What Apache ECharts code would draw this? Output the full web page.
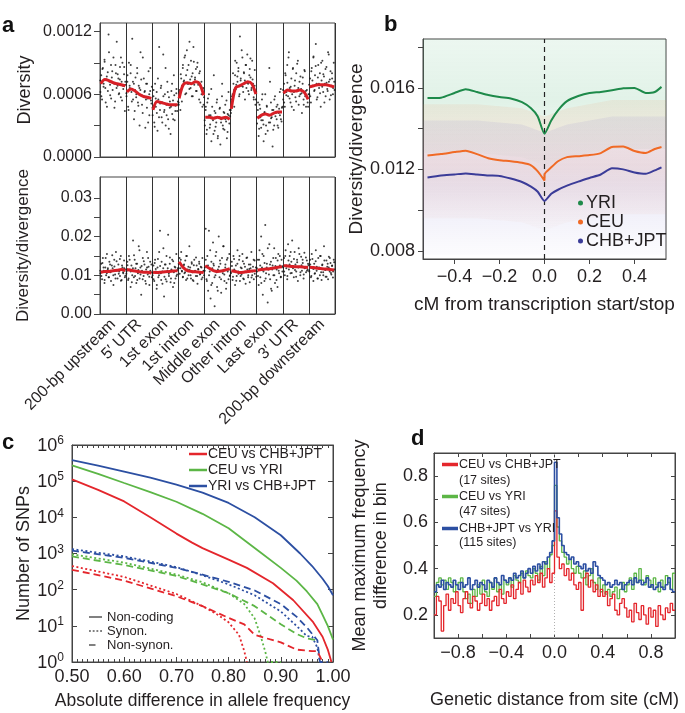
<!DOCTYPE html>
<html><head><meta charset="utf-8">
<script src="https://cdn.jsdelivr.net/npm/echarts@6/dist/echarts.min.js"></script>
<style>html,body{margin:0;padding:0;background:#fff}#c{width:685px;height:713px}</style>
</head><body><div id="c"></div>
<script>
const FONT = '"Liberation Sans", Arial, Helvetica, sans-serif';
const TXT = '#231f20';
const AX = '#444';

// ---------- panel a ----------
const aCats = ['200-bp upstream','5\u2032 UTR','1st exon','1st intron','Middle exon','Other intron','Last exon','3\u2032 UTR','200-bp downstream'];
// diversity dots (units 1e-5), two interleaved sets per segment
const aTopDots = [
 [62,78,55,85,70,93,66,74,48,81,117,72,59,88,76,64,95,70,53,80,110,68,75,61,86,57,72,90,65,79,44,69],
 [58,72,48,90,66,80,62,113,55,70,44,76,60,85,52,68,30,64,74,50,95,58,62,28,70,47,56,82,40,63,54,67],
 [40,58,33,70,48,62,25,55,105,45,66,38,52,98,43,60,30,50,72,36,57,47,22,63,41,54,78,35,49,61,44,53],
 [50,62,45,75,68,85,72,95,60,78,102,70,88,65,74,92,58,80,105,69,76,84,63,90,71,55,82,67,60,48,66,57],
 [30,45,22,52,38,60,28,40,15,48,35,78,25,42,33,55,20,38,46,12,36,58,30,43,26,50,34,18,41,62,32,39],
 [42,55,60,70,48,78,65,90,72,82,58,115,75,68,95,62,80,73,88,66,98,70,60,84,76,64,92,70,55,68,50,62],
 [32,45,20,50,38,28,55,35,15,42,60,30,48,25,40,85,33,52,38,10,45,30,58,42,36,50,28,46,40,65,34,48],
 [55,70,48,78,62,88,58,100,66,52,75,60,85,45,68,57,80,63,92,50,72,60,65,42,76,55,83,58,48,64,52,60],
 [60,75,52,85,68,95,63,78,108,70,57,88,66,80,48,73,92,62,77,70,58,86,65,100,72,55,82,68,75,60,90,64]
];
const aTopDots2 = [
 [73,58,84,67,91,52,77,63,100,69,56,82,71,47,88,66,79,60,74,95,54,68,86,72],
 [61,78,45,68,88,53,72,36,64,57,80,49,66,100,59,42,75,63,55,70,33,60,85,51],
 [47,64,29,56,42,75,38,51,68,33,58,45,85,40,62,27,53,48,70,36,59,44,65,50],
 [52,64,79,53,88,73,97,61,83,70,110,66,77,58,91,74,63,86,69,80,52,72,65,50],
 [35,48,26,56,40,31,65,37,22,44,29,52,18,38,47,33,70,27,42,36,54,24,40,45],
 [45,58,80,64,92,69,77,85,60,73,102,67,81,55,88,71,63,78,94,66,74,57,83,55],
 [38,52,27,46,35,60,31,43,22,49,40,33,72,37,45,26,55,39,48,30,42,62,36,47],
 [64,52,80,59,71,95,56,67,48,84,62,73,53,89,66,58,77,61,70,50,82,63,57,48],
 [69,58,82,73,96,64,87,55,76,70,61,90,67,79,52,84,71,63,98,74,59,80,66,72]
];
// diversity/divergence dots (units 1e-4)
const aBotDots = [
 [105,130,90,145,112,80,120,100,155,115,95,135,108,85,125,118,75,140,102,160,112,92,128,110,98,150,88,120,105,138,95,115],
 [110,135,88,150,115,70,125,100,190,95,140,118,80,130,105,175,92,120,50,112,145,98,128,85,115,160,102,122,75,135,108,95],
 [100,125,85,140,110,65,120,95,160,215,105,135,78,118,45,128,90,150,112,205,98,130,82,115,140,70,108,122,92,155,102,118],
 [130,145,118,160,110,95,125,105,138,88,150,115,100,175,120,92,130,108,85,140,112,98,125,78,115,135,102,122,90,145,110,100],
 [120,220,90,150,60,215,110,40,135,80,185,125,20,100,160,70,115,200,95,130,55,145,105,175,85,120,65,140,110,90,155,100],
 [105,135,88,150,115,75,125,98,165,110,140,85,120,102,155,92,130,108,78,145,115,95,128,82,118,160,100,122,90,138,112,96],
 [110,140,75,165,95,200,120,50,150,85,230,105,130,30,115,180,90,135,60,125,100,170,80,145,115,70,155,105,125,95,140,110],
 [120,145,100,165,125,90,180,115,150,105,135,190,118,95,160,128,110,140,85,170,122,100,148,112,132,92,158,120,108,138,115,126],
 [110,140,95,155,118,85,130,105,165,112,92,145,120,100,150,88,128,108,175,115,96,138,122,90,148,110,132,102,125,94,140,115]
];
const aBotDots2 = [
 [112,98,132,120,88,145,105,118,95,128,110,152,100,123,92,136,114,104,142,86,125,108,118,99],
 [104,126,92,140,110,82,118,152,98,130,88,114,165,102,124,90,136,108,78,120,145,96,112,128],
 [106,90,132,116,75,142,100,124,88,110,170,96,128,84,118,104,146,92,112,136,80,120,98,114],
 [118,104,140,112,96,128,108,150,92,122,114,100,134,88,126,110,146,98,116,130,104,120,94,112],
 [112,140,85,125,100,165,75,118,130,95,150,108,60,122,138,90,112,175,102,128,80,145,115,98],
 [108,124,96,142,112,86,130,104,150,98,118,136,90,122,108,146,100,116,128,94,110,140,104,120],
 [118,98,140,125,80,155,110,132,92,120,170,102,128,65,115,145,100,124,88,138,112,150,96,122],
 [124,110,150,118,98,138,128,160,106,122,142,114,96,134,120,155,108,126,140,102,118,146,112,130],
 [112,128,98,142,116,104,136,122,92,118,150,108,126,100,138,114,96,130,120,145,106,124,110,134]
];
const aTopRed = [
 [70,74,73,71,70,69,68],[62,65,63,60,58,57,56],[45,53,52,51,50,50,50],
 [56,69,71,70,72,70,59],[38,38,37,38,37,38,36],[46,66,68,70,72,70,60],
 [37,40,41,40,42,43,43],[61,64,63,63,64,62,55],[67,68,69,69,69,68,67]
];
const aBotRed = [
 [108,110,110,112,113,115,112],[115,113,111,109,108,108,106],[108,107,108,109,110,111,112],
 [135,120,112,110,109,108,107],[125,118,112,110,111,114,117],[112,110,107,108,110,111,112],
 [113,115,116,117,119,121,122],[125,124,123,122,122,121,120],[121,120,118,117,116,115,114]
];
const aTopTicks = [0,0.0003,0.0006,0.0009,0.0012];
const aTopLabels = [0,0.0006,0.0012];
const aBotTicks = [0,0.005,0.01,0.015,0.02,0.025,0.03];
const aBotLabels = [0,0.01,0.02,0.03];

// ---------- panel b ----------
const bXMin = -0.54, bXMax = 0.54, bYMin = 0.0076, bYMax = 0.0184;
const bX   = [-0.52,-0.46,-0.40,-0.35,-0.30,-0.25,-0.20,-0.15,-0.10,-0.06,-0.03,0, 0,0.03,0.06,0.10,0.15,0.20,0.25,0.30,0.35,0.40,0.45,0.49,0.52];
const bYRI = [0.01550,0.01552,0.01575,0.01593,0.01580,0.01565,0.01555,0.01548,0.01530,0.01500,0.01460,0.01375, 0.01375,0.01440,0.01490,0.01535,0.01560,0.01575,0.01580,0.01588,0.01598,0.01600,0.01575,0.01580,0.01605];
const bCEU = [0.01268,0.01275,0.01285,0.01292,0.01275,0.01255,0.01245,0.01240,0.01232,0.01220,0.01190,0.01145, 0.01175,0.01210,0.01240,0.01260,0.01265,0.01270,0.01280,0.01310,0.01312,0.01290,0.01280,0.01300,0.01310];
const bCHB = [0.01160,0.01170,0.01175,0.01180,0.01175,0.01170,0.01168,0.01155,0.01138,0.01115,0.01090,0.01045, 0.01045,0.01080,0.01100,0.01120,0.01140,0.01158,0.01175,0.01205,0.01200,0.01185,0.01178,0.01195,0.01210];
// extent of the faint point clouds behind each line
const bBandX = [-0.54,-0.3,-0.1,0,0.1,0.3,0.54];
const bYRILo = [0.0128,0.0128,0.0126,0.0122,0.0126,0.0130,0.0130];
const bYRIHi = [0.0184,0.0184,0.0184,0.0184,0.0184,0.0184,0.0184];
const bCEULo = [0.0096,0.0096,0.0094,0.0090,0.0094,0.0098,0.0098];
const bCEUHi = [0.0152,0.0152,0.0150,0.0146,0.0150,0.0154,0.0154];
const bCHBLo = [0.0078,0.0078,0.0078,0.0078,0.0078,0.0078,0.0078];
const bCHBHi = [0.0144,0.0144,0.0142,0.0138,0.0142,0.0146,0.0146];
const bXTicks = [-0.4,-0.2,0,0.2,0.4];
const bYTicks = [0.008,0.010,0.012,0.014,0.016,0.018];
const bYLabels = [0.008,0.012,0.016];

// ---------- panel c ----------
const cRedNC = [[0.50,112000],[0.55,57500],[0.60,27500],[0.65,10000],[0.70,3550],[0.73,2000],[0.75,1410],[0.80,676],[0.835,400],[0.885,151],[0.924,51],[0.962,12.6],[0.98,5],[0.99,2.2],[0.997,1]];
const cGreenNC = [[0.50,275000],[0.55,160000],[0.60,89000],[0.65,50000],[0.70,27000],[0.75,12500],[0.80,5000],[0.86,1100],[0.90,400],[0.93,178],[0.95,89],[0.97,40],[0.98,20],[0.99,10],[1.00,4.2]];
const cBlueNC = [[0.50,380000],[0.55,270000],[0.60,185000],[0.65,125000],[0.70,80000],[0.75,48000],[0.80,25000],[0.85,10000],[0.90,3200],[0.937,1000],[0.96,450],[0.98,200],[0.99,126],[1.00,70]];
const cBlueSyn = [[0.50,1320],[0.55,1050],[0.60,830],[0.65,600],[0.70,420],[0.75,250],[0.80,140],[0.85,70],[0.90,25],[0.93,10],[0.95,5.2],[0.96,5],[0.97,2.5],[0.975,1]];
const cBlueNon = [[0.50,1200],[0.60,760],[0.70,400],[0.75,260],[0.80,165],[0.85,95],[0.90,40],[0.93,18],[0.95,9],[0.97,4],[0.975,1],[0.99,1]];
const cGreenSyn = [[0.50,950],[0.60,560],[0.70,260],[0.75,160],[0.80,80],[0.83,40],[0.85,16],[0.86,6],[0.87,2],[0.875,1],[0.90,1]];
const cGreenNon = [[0.50,830],[0.60,480],[0.70,240],[0.75,140],[0.80,80],[0.85,35],[0.90,11],[0.93,6],[0.95,4.5],[0.97,4]];
const cRedSyn = [[0.50,450],[0.60,225],[0.70,76],[0.75,35],[0.78,20],[0.80,12.5],[0.82,5.6],[0.83,2],[0.835,1]];
const cRedNon = [[0.50,355],[0.60,178],[0.70,66],[0.75,35],[0.80,16.6],[0.83,11],[0.85,5.6],[0.88,4.2],[0.90,3.5],[0.93,2.2],[0.96,2],[0.97,2],[0.98,1]];
const cYLabels = [1,10,100,1000,10000,100000,1000000];

// ---------- panel d ----------
const dYMin = 0.1, dYMax = 0.9;
const dStart = -1, dStep = 0.02;
const dRed = [
 .20,.28,.26,.13,.24,.29,.22,.27,.25,.30, .24,.21,.27,.30,.25,.23,.28,.26,.22,.25,
 .29,.24,.27,.22,.26,.28,.24,.31,.27,.25, .30,.28,.33,.27,.31,.34,.29,.35,.32,.30,
 .35,.33,.37,.34,.38,.32,.36,.40,.34,.38, .65,.45,.40,.42,.37,.40,.35,.38,.33,.31,
 .34,.22,.36,.38,.32,.35,.30,.33,.28,.31, .28,.30,.24,.27,.29,.22,.20,.25,.27,.23,
 .19,.22,.17,.25,.21,.18,.24,.20,.16,.23, .19,.22,.15,.24,.20,.18,.23,.21,.25,.22];
const dGreen = [
 .28,.34,.36,.33,.35,.31,.36,.34,.30,.33, .34,.36,.30,.27,.29,.25,.31,.28,.33,.29,
 .35,.30,.28,.34,.31,.36,.30,.33,.29,.35, .33,.36,.32,.37,.35,.34,.38,.36,.39,.37,
 .36,.40,.38,.35,.41,.37,.43,.40,.46,.50, .76,.58,.52,.47,.45,.42,.44,.40,.38,.41,
 .38,.36,.39,.33,.37,.40,.34,.31,.36,.30, .33,.29,.31,.28,.30,.32,.27,.31,.34,.30,
 .33,.36,.31,.38,.34,.40,.35,.33,.37,.35, .32,.36,.33,.30,.35,.32,.37,.34,.31,.38];
const dBlue = [
 .30,.33,.32,.35,.31,.34,.33,.32,.35,.33, .31,.34,.32,.33,.36,.31,.33,.35,.32,.34,
 .33,.31,.35,.34,.32,.36,.34,.33,.37,.35, .34,.36,.35,.38,.36,.37,.39,.36,.38,.40,
 .38,.41,.39,.42,.40,.43,.42,.45,.47,.52, .86,.62,.55,.50,.47,.46,.44,.45,.42,.43,
 .41,.40,.42,.39,.40,.38,.43,.41,.37,.36, .35,.33,.34,.32,.33,.35,.33,.34,.31,.33,
 .34,.35,.33,.36,.34,.35,.33,.34,.36,.32, .33,.31,.32,.34,.32,.31,.33,.36,.31,.30];
const dLegend = {d1:'CEU vs CHB+JPT', d2:'CEU vs YRI', d3:'CHB+JPT vs YRI'};
const dSites = ['(17 sites)','(47 sites)','(115 sites)'];
const dXTicks = [-1,-0.8,-0.6,-0.4,-0.2,0,0.2,0.4,0.6,0.8,1];
const dXLabels = [-0.8,-0.4,0,0.4,0.8];
const dYTicks = [0.2,0.3,0.4,0.5,0.6,0.7,0.8];
const dYLabels = [0.2,0.4,0.6,0.8];

// ---------- build ----------
const RED='#e4262c', GREEN='#5cb646', BLUE='#2c4fa2';
const series = [];

function dotsData(a, b, scale){
  const out=[];
  a.forEach((seg,s)=>seg.forEach((v,j)=>out.push([s+(j+0.5)/seg.length, v*scale])));
  b.forEach((seg,s)=>seg.forEach((v,j)=>out.push([s+(j+0.25)/seg.length, v*scale])));
  return out;
}
series.push({type:'scatter', xAxisIndex:1, yAxisIndex:0, data:dotsData(aTopDots,aTopDots2,1e-5), symbolSize:2, itemStyle:{color:'#111'}, silent:true, z:2});
series.push({type:'scatter', xAxisIndex:3, yAxisIndex:1, data:dotsData(aBotDots,aBotDots2,1e-4), symbolSize:2, itemStyle:{color:'#111'}, silent:true, z:2});
function redSeries(arr, scale, xi, yi){
  arr.forEach((seg,s)=>{
    series.push({type:'line', xAxisIndex:xi, yAxisIndex:yi, smooth:0.3, symbol:'none', silent:true, z:3,
      lineStyle:{color:'#d71f26', width:3},
      data: seg.map((v,k)=>[s+0.03+0.94*k/(seg.length-1), v*scale])});
  });
}
redSeries(aTopRed,1e-5,1,0);
redSeries(aBotRed,1e-4,3,1);

// panel b clouds (custom polygons through the axes)
function band(lo, hi, rgb){
  series.push({type:'custom', xAxisIndex:4, yAxisIndex:2, silent:true, z:1, clip:true, data:[0],
    renderItem:(params, api)=>{
      const pts=[];
      bBandX.forEach((x,i)=>pts.push(api.coord([x,hi[i]])));
      for(let i=bBandX.length-1;i>=0;i--) pts.push(api.coord([bBandX[i],lo[i]]));
      return {type:'polygon', shape:{points:pts}, style:{fill:new echarts.graphic.LinearGradient(0,0,0,1,[
        {offset:0,color:'rgba('+rgb+',0.10)'},{offset:0.5,color:'rgba('+rgb+',0.16)'},{offset:1,color:'rgba('+rgb+',0.02)'}])}};
    }});
}
band(bYRILo,bYRIHi,'70,175,110');
band(bCEULo,bCEUHi,'240,140,90');
band(bCHBLo,bCHBHi,'120,110,200');
series.push({type:'line', xAxisIndex:4, yAxisIndex:2, symbol:'none', silent:true, z:3,
  lineStyle:{color:'#222', type:[5,4], width:1.2}, data:[[0,bYMin],[0,bYMax]]});
series.push({type:'line', name:'YRI', xAxisIndex:4, yAxisIndex:2, symbol:'none', smooth:0.2, z:4,
  lineStyle:{color:'#1e8a4a', width:2}, itemStyle:{color:'#1e8a4a'}, data:bX.map((x,i)=>[x,bYRI[i]])});
series.push({type:'line', name:'CEU', xAxisIndex:4, yAxisIndex:2, symbol:'none', smooth:0.2, z:4,
  lineStyle:{color:'#f06a25', width:2}, itemStyle:{color:'#f06a25'}, data:bX.map((x,i)=>[x,bCEU[i]])});
series.push({type:'line', name:'CHB+JPT', xAxisIndex:4, yAxisIndex:2, symbol:'none', smooth:0.2, z:4,
  lineStyle:{color:'#3b3c98', width:2}, itemStyle:{color:'#3b3c98'}, data:bX.map((x,i)=>[x,bCHB[i]])});

// panel c
function cLine(name, data, color, type){
  series.push({type:'line', name, xAxisIndex:5, yAxisIndex:3, symbol:'none', silent:true,
    lineStyle:{color, width:1.8, type}, itemStyle:{color}, data});
}
cLine('CEU vs CHB+JPT', cRedNC, RED, 'solid');
cLine('CEU vs YRI', cGreenNC, GREEN, 'solid');
cLine('YRI vs CHB+JPT', cBlueNC, BLUE, 'solid');
cLine('bSyn', cBlueSyn, BLUE, [2,2.5]);
cLine('bNon', cBlueNon, BLUE, [7,4]);
cLine('gSyn', cGreenSyn, GREEN, [2,2.5]);
cLine('gNon', cGreenNon, GREEN, [7,4]);
cLine('rSyn', cRedSyn, RED, [2,2.5]);
cLine('rNon', cRedNon, RED, [7,4]);
cLine('Non-coding', [], '#808080', 'solid');
cLine('Synon.', [], '#808080', [2,2]);
cLine('Non-synon.', [], '#808080', [6,4]);

// panel d
function dLine(name, vals, color, w){
  const data = vals.map((v,i)=>[dStart+i*dStep, v]);
  data.push([dStart+vals.length*dStep, vals[vals.length-1]]);
  series.push({type:'line', name, xAxisIndex:7, yAxisIndex:5, step:'end', symbol:'none', silent:true,
    lineStyle:{color, width:w}, itemStyle:{color}, data, z:3});
}
series.push({type:'line', xAxisIndex:7, yAxisIndex:5, symbol:'none', silent:true, z:1,
  lineStyle:{color:'#b0b0b0', type:[1,2], width:1}, data:[[0,dYMin],[0,dYMax]]});
dLine('d2', dGreen, GREEN, 1.3);
dLine('d1', dRed, RED, 1.3);
dLine('d3', dBlue, BLUE, 1.6);

const lbl = (extra) => Object.assign({color:TXT, fontFamily:FONT, fontSize:17}, extra||{});
const axLine = {show:true, onZero:false, lineStyle:{color:AX, width:1}};
const DOTS = 'path://M0,0h2v2h-2zM4,0h2v2h-2zM8,0h2v2h-2zM12,0h2v2h-2z';
const DASH = 'path://M0,0h7v2h-7zM13.9,0h0.1v0.1h-0.1z';

const option = {
  animation:false,
  textStyle:{fontFamily:FONT, color:TXT},
  grid:[
    {left:100, top:23, width:235, height:134, show:true, borderColor:AX, borderWidth:1},
    {left:100, top:177, width:235, height:137, show:true, borderColor:AX, borderWidth:1},
    {left:423, top:39, width:243, height:220, show:true, borderColor:AX, borderWidth:1},
    {left:72, top:445, width:261, height:217, show:true, borderColor:AX, borderWidth:1},
    {left:434, top:453, width:241, height:185, show:true, borderColor:AX, borderWidth:1}
  ],
  xAxis:[
    {gridIndex:0, type:'category', data:aCats, axisLabel:{show:false}, axisTick:{show:false}, axisLine:axLine,
      splitLine:{show:true, interval:0, lineStyle:{color:'#333', width:1}}},
    {gridIndex:0, type:'value', min:0, max:9, show:false},
    {gridIndex:1, type:'category', data:aCats, axisTick:{show:false}, axisLine:axLine,
      axisLabel:lbl({interval:0, rotate:45, fontSize:16, margin:8}),
      splitLine:{show:true, interval:0, lineStyle:{color:'#333', width:1}}},
    {gridIndex:1, type:'value', min:0, max:9, show:false},
    {gridIndex:2, type:'value', min:bXMin, max:bXMax, axisLine:axLine, splitLine:{show:false},
      axisTick:{show:true, length:5, lineStyle:{color:AX}, customValues:bXTicks},
      axisLabel:lbl({fontSize:18, margin:9, customValues:bXTicks, formatter:v=>(v<0?'\u2212':'')+Math.abs(v).toFixed(1)}),
      name:'cM from transcription start/stop', nameLocation:'middle', nameGap:36, nameTextStyle:lbl({fontSize:19})},
    {gridIndex:3, type:'value', min:0.5, max:1.0, interval:0.1, axisLine:axLine, splitLine:{show:false},
      axisTick:{show:true, inside:true, length:5, lineStyle:{color:AX}},
      minorTick:{show:true, splitNumber:10, length:3, lineStyle:{color:AX}},
      axisLabel:lbl({fontSize:18, margin:6, formatter:v=>v.toFixed(2)}),
      name:'Absolute difference in allele frequency', nameLocation:'middle', nameGap:30, nameTextStyle:lbl({fontSize:17.5})},
    {gridIndex:3, type:'value', position:'top', min:0.5, max:1.0, interval:0.1, axisLine:axLine, splitLine:{show:false},
      axisTick:{show:true, inside:true, length:5, lineStyle:{color:AX}},
      minorTick:{show:true, splitNumber:10, length:3, lineStyle:{color:AX}}, axisLabel:{show:false}},
    {gridIndex:4, type:'value', min:-1, max:1, axisLine:axLine, splitLine:{show:false},
      axisTick:{show:true, inside:true, length:4, lineStyle:{color:AX}, customValues:dXTicks},
      axisLabel:lbl({fontSize:18, margin:6, customValues:dXLabels, formatter:v=>(v<0?'\u2212':'')+Math.abs(v).toFixed(1)}),
      name:'Genetic distance from site (cM)', nameLocation:'middle', nameGap:53, nameTextStyle:lbl({fontSize:18})},
    {gridIndex:4, type:'value', position:'top', min:-1, max:1, axisLine:axLine, splitLine:{show:false},
      axisTick:{show:true, inside:true, length:4, lineStyle:{color:AX}, customValues:dXTicks}, axisLabel:{show:false}}
  ],
  yAxis:[
    {gridIndex:0, type:'value', min:0, max:0.00128, axisLine:axLine, splitLine:{show:false},
      axisTick:{show:true, length:6, lineStyle:{color:AX}, customValues:aTopTicks},
      axisLabel:lbl({fontSize:16, margin:8, customValues:aTopLabels, formatter:v=>v.toFixed(4)}),
      name:'Diversity', nameLocation:'middle', nameGap:66, nameTextStyle:lbl({fontSize:18})},
    {gridIndex:1, type:'value', min:0, max:0.0354, axisLine:axLine, splitLine:{show:false},
      axisTick:{show:true, length:6, lineStyle:{color:AX}, customValues:aBotTicks},
      axisLabel:lbl({fontSize:16, margin:8, customValues:aBotLabels, formatter:v=>v.toFixed(2)}),
      name:'Diversity/divergence', nameLocation:'middle', nameGap:68, nameTextStyle:lbl({fontSize:17})},
    {gridIndex:2, type:'value', min:bYMin, max:bYMax, axisLine:axLine, splitLine:{show:false},
      axisTick:{show:true, length:5, lineStyle:{color:AX}, customValues:bYTicks},
      axisLabel:lbl({fontSize:18, margin:8, customValues:bYLabels, formatter:v=>v.toFixed(3)}),
      name:'Diversity/divergence', nameLocation:'middle', nameGap:56, nameTextStyle:lbl({fontSize:19})},
    {gridIndex:3, type:'log', logBase:10, min:1, max:1000000, axisLine:axLine, splitLine:{show:false},
      axisTick:{show:true, inside:true, length:5, lineStyle:{color:AX}, customValues:cYLabels},
      axisLabel:{customValues:cYLabels, margin:8, formatter:v=>'{b|10}{s|'+Math.round(Math.log10(v))+'}',
        rich:{b:{fontSize:18, color:TXT, fontFamily:FONT, verticalAlign:'bottom'}, s:{fontSize:12, color:TXT, fontFamily:FONT, verticalAlign:'bottom', padding:[0,0,8,0]}}},
      name:'Number of SNPs', nameLocation:'middle', nameGap:38, nameTextStyle:lbl({fontSize:18})},
    {gridIndex:3, type:'log', logBase:10, min:1, max:1000000, position:'right', axisLine:axLine, splitLine:{show:false},
      axisTick:{show:true, inside:true, length:5, lineStyle:{color:AX}, customValues:cYLabels}, axisLabel:{show:false}},
    {gridIndex:4, type:'value', min:dYMin, max:dYMax, axisLine:axLine, splitLine:{show:false},
      axisTick:{show:true, inside:true, length:4, lineStyle:{color:AX}, customValues:dYTicks},
      axisLabel:lbl({fontSize:18, margin:6, customValues:dYLabels, formatter:v=>v.toFixed(1)}),
      name:'Mean maximum frequency\ndifference in bin', nameLocation:'middle', nameGap:42, nameTextStyle:lbl({fontSize:18, lineHeight:21})},
    {gridIndex:4, type:'value', min:dYMin, max:dYMax, position:'right', axisLine:axLine, splitLine:{show:false},
      axisTick:{show:true, inside:true, length:4, lineStyle:{color:AX}, customValues:dYTicks}, axisLabel:{show:false}}
  ],
  legend:[
    {data:['YRI','CEU','CHB+JPT'], orient:'vertical', left:578, top:194, itemGap:1, icon:'circle', itemWidth:5, itemHeight:5,
      padding:0, textStyle:lbl({fontSize:18, padding:[0,0,0,-2]}), selectedMode:false},
    {data:['CEU vs CHB+JPT','CEU vs YRI','YRI vs CHB+JPT'], orient:'vertical', left:189, top:447, itemGap:2, icon:'rect', itemWidth:18, itemHeight:2.5,
      padding:0, textStyle:lbl({fontSize:14, padding:[0,0,0,-4], lineHeight:14}), selectedMode:false},
    {data:[{name:'Non-coding', icon:'rect'},{name:'Synon.', icon:DOTS},{name:'Non-synon.', icon:DASH}], orient:'vertical', left:89, top:610, itemGap:0, itemWidth:13, itemHeight:2,
      padding:0, textStyle:lbl({fontSize:13, lineHeight:14}), selectedMode:false},
    {data:['d1','d2','d3'], orient:'vertical', left:442, top:458, itemGap:19, icon:'rect', itemWidth:16, itemHeight:3.5,
      padding:0, textStyle:lbl({fontSize:12.5, padding:[0,0,0,-4]}), selectedMode:false, formatter:n=>dLegend[n]}
  ],
  graphic:[
    {type:'text', left:2, top:15, style:{text:'a', font:'bold 22px '+FONT, fill:'#111'}},
    {type:'text', left:384, top:14, style:{text:'b', font:'bold 22px '+FONT, fill:'#111'}},
    {type:'text', left:2, top:432, style:{text:'c', font:'bold 22px '+FONT, fill:'#111'}},
    {type:'text', left:411, top:428, style:{text:'d', font:'bold 22px '+FONT, fill:'#111'}},
    {type:'text', left:459, top:474, style:{text:dSites[0], font:'12.5px '+FONT, fill:TXT}},
    {type:'text', left:459, top:505, style:{text:dSites[1], font:'12.5px '+FONT, fill:TXT}},
    {type:'text', left:459, top:536, style:{text:dSites[2], font:'12.5px '+FONT, fill:TXT}}
  ],
  series
};
const chart = echarts.init(document.getElementById('c'), null, {renderer:'canvas'});
chart.setOption(option);
</script></body></html>
